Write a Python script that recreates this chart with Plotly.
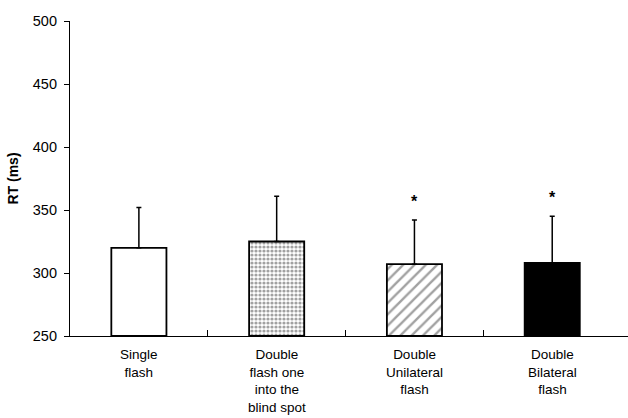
import plotly.graph_objects as go

categories = ["Single<br>flash", "Double<br>flash one<br>into the<br>blind spot",
              "Double<br>Unilateral<br>flash", "Double<br>Bilateral<br>flash"]
means = [320, 325, 307, 308]
sds = [32, 36, 35, 37]
significant = [False, False, True, True]
y_ticks = [250, 300, 350, 400, 450, 500]

x = list(range(len(categories)))

fig = go.Figure()
fig.add_trace(go.Bar(
    x=x, y=[m - 250 for m in means], base=250,
    width=0.4,
    marker=dict(
        color=["white", "white", "white", "black"],
        line=dict(color="black", width=1.8),
        pattern=dict(shape=["", ".", "/", ""], fgcolor="black", bgcolor="white",
                     size=[8, 4, 8, 8], solidity=[0.2, 0.5, 0.3, 0.2]),
    ),
    error_y=dict(type="data", symmetric=False, array=sds,
                 arrayminus=[0] * len(sds), color="black", thickness=1.5, width=2.5),
    showlegend=False,
))

for i, (m, s, sig) in enumerate(zip(means, sds, significant)):
    if sig:
        fig.add_annotation(x=i, y=m + s + 15, text="<b>*</b>", showarrow=False,
                           font=dict(size=16, color="black"), yanchor="middle")

for i, c in enumerate(categories):
    fig.add_annotation(x=i, y=0, yref="paper", text=c, showarrow=False,
                       yanchor="top", yshift=-9,
                       font=dict(size=13.5, color="black", family="Liberation Sans, Arial"))

fig.update_layout(
    width=628, height=418,
    margin=dict(l=70, r=0, t=21, b=82),
    paper_bgcolor="white", plot_bgcolor="white",
    font=dict(family="Liberation Sans, Arial", color="black", size=14.5),
    bargap=0.6,
)
fig.update_xaxes(
    range=[-0.5, 3.55], showgrid=False, zeroline=False,
    showline=True, linecolor="black", linewidth=1.2,
    tickvals=[0.5, 1.5, 2.5], ticks="inside", ticklen=6, tickwidth=1, tickcolor="black",
    showticklabels=False,
)
fig.update_yaxes(
    range=[250, 500], tickvals=y_ticks, showgrid=False, zeroline=False,
    showline=True, linecolor="black", linewidth=1.2,
    ticks="outside", ticklen=5, tickwidth=1, tickcolor="black",
    tickfont=dict(size=14.5), ticklabelstandoff=4,
    title=dict(text="<b>RT (ms)</b>", font=dict(size=14), standoff=10),
)

fig.write_html("out.html")
